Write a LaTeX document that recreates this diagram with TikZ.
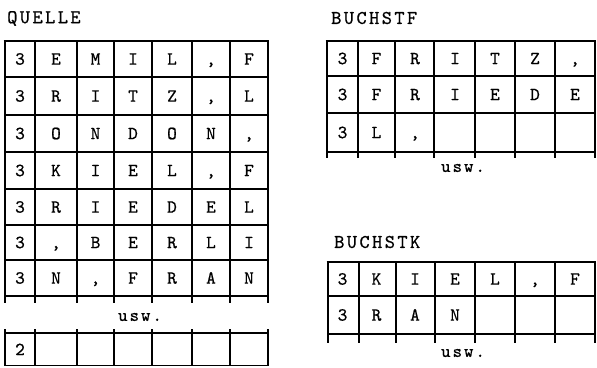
\documentclass[tikz,border=0pt]{standalone}
\usepackage{fontspec}
\newfontfamily\twfont[FakeBold=0.7]{lmmono10-regular.otf}
\newcommand\spacedtxt[1]{\spacedi#1\relax}
\def\spacedi#1{\ifx#1\relax\else#1\kern2.4pt\expandafter\spacedi\fi}
\begin{document}
\begin{tikzpicture}[x=1pt,y=-1pt,
  thk/.style={line width=2.8pt},
  thn/.style={line width=1.2pt},
  mid/.style={line width=1.8pt},
  cell/.style={font=\twfont\fontsize{18.5}{18.5}\selectfont, inner sep=0pt, text height=11.3pt, text depth=0pt, anchor=center},
  ttl/.style={font=\twfont\fontsize{19.5}{19.5}\selectfont, inner sep=0pt, anchor=west},
  uswtxt/.style={font=\twfont\fontsize{18}{18}\selectfont, inner sep=0pt, anchor=center}]
\useasboundingbox (0,0) rectangle (597,367);
\newcommand\rowL[9]{%
  \node[cell] (#1-1) at (20,#2) {#3};
  \node[cell] (#1-2) at (56,#2) {#4};
  \node[cell] (#1-3) at (95.5,#2) {#5};
  \node[cell] (#1-4) at (133,#2) {#6};
  \node[cell] (#1-5) at (172,#2) {#7};
  \node[cell] (#1-6) at (211,#2) {#8};
  \node[cell] (#1-7) at (249,#2) {#9};}
\newcommand\rowR[9]{%
  \node[cell] (#1-1) at (342.5,#2) {#3};
  \node[cell] (#1-2) at (376.5,#2) {#4};
  \node[cell] (#1-3) at (415,#2) {#5};
  \node[cell] (#1-4) at (455,#2) {#6};
  \node[cell] (#1-5) at (495,#2) {#7};
  \node[cell] (#1-6) at (535,#2) {#8};
  \node[cell] (#1-7) at (575,#2) {#9};}
% ---------------- QUELLE ----------------
\node[ttl] (tquelle) at (7,18.5) {\spacedtxt{QUELLE}};
\foreach \x in {77,114,152,192,230} \draw[thn] (\x,41) -- (\x,303);
\foreach \x in {5,35,268} \draw[thk] (\x,41) -- (\x,303);
\foreach \y in {77,115,152,189,225,260} \draw[thn] (5,\y) -- (268,\y);
\draw[mid] (5,296) -- (268,296);
\draw[thk] (3.6,41) -- (269.4,41);
\rowL{q1}{59}{3}{E}{M}{I}{L}{,}{F}
\rowL{q2}{96}{3}{R}{I}{T}{Z}{,}{L}
\rowL{q3}{133.5}{3}{O}{N}{D}{O}{N}{,}
\rowL{q4}{170.5}{3}{K}{I}{E}{L}{,}{F}
\rowL{q5}{207}{3}{R}{I}{E}{D}{E}{L}
\rowL{q6}{242.5}{3}{,}{B}{E}{R}{L}{I}
\rowL{q7}{278}{3}{N}{,}{F}{R}{A}{N}
\node[uswtxt] (uq) at (140,317) {u\kern2pt s\kern2pt w\kern2pt .};
% last block
\foreach \x in {77,114,152,192,230} \draw[thn] (\x,329) -- (\x,366);
\foreach \x in {5,35,268} \draw[thk] (\x,329) -- (\x,366);
\draw[mid] (5,333) -- (268,333);
\draw[mid] (5,365.5) -- (268,365.5);
\rowL{q8}{349.5}{2}{}{}{}{}{}{}
% ---------------- BUCHSTF ----------------
\node[ttl] (tbuchstf) at (331,18) {\spacedtxt{BUCHSTF}};
\foreach \x in {395,434,475,515} \draw[thn] (\x,41) -- (\x,158);
\foreach \x in {327,358} \draw[thk] (\x,41) -- (\x,158);
\draw[mid] (555,41) -- (555,158);
\draw[mid] (595,41) -- (595,158);
\foreach \y in {76,113} \draw[thn] (327,\y) -- (595,\y);
\draw[mid] (327,152) -- (595,152);
\draw[thk] (325.6,41) -- (596,41);
\rowR{f1}{58.5}{3}{F}{R}{I}{T}{Z}{,}
\rowR{f2}{94.5}{3}{F}{R}{I}{E}{D}{E}
\rowR{f3}{132.5}{3}{L}{,}{}{}{}{}
\node[uswtxt] (uf) at (463,168) {u\kern2pt s\kern2pt w\kern2pt .};
% ---------------- BUCHSTK ----------------
\node[ttl] (tbuchstk) at (334,242) {\spacedtxt{BUCHSTK}};
\foreach \x in {396,435,475,515} \draw[thn] (\x,262) -- (\x,343);
\foreach \x in {328,359} \draw[thk] (\x,262) -- (\x,343);
\draw[mid] (555,262) -- (555,343);
\draw[mid] (595,262) -- (595,343);
\draw[thn] (328,296) -- (595,296);
\draw[mid] (328,334) -- (595,334);
\draw[thk] (326.6,262) -- (596,262);
\rowR{k1}{279}{3}{K}{I}{E}{L}{,}{F}
\rowR{k2}{315}{3}{R}{A}{N}{}{}{}
\node[uswtxt] (uk) at (463,353) {u\kern2pt s\kern2pt w\kern2pt .};
\end{tikzpicture}
\end{document}
